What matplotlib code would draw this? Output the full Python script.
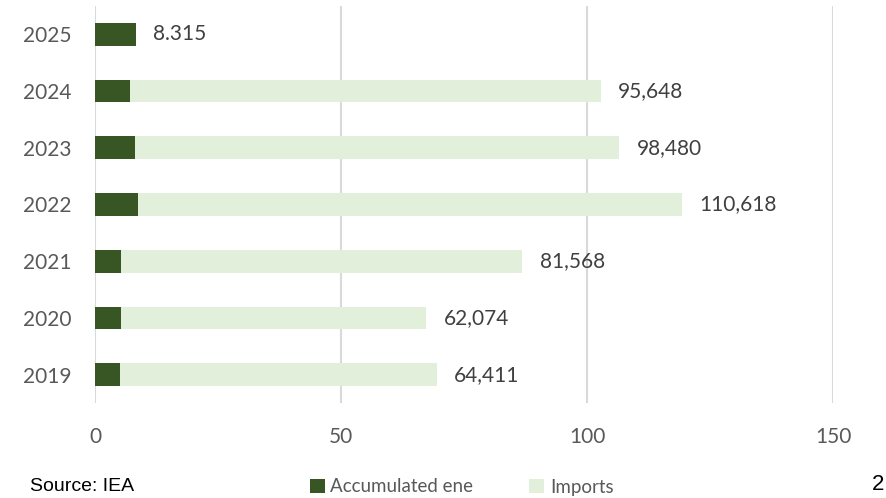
import matplotlib.pyplot as plt
import numpy as np

# данные
years = ['2019', '2020', '2021', '2022', '2023', '2024', '2025']
accumulated = [5.1, 5.3, 5.3, 8.7, 8.1, 7.1, 8.315]
imports = [64.411, 62.074, 81.568, 110.618, 98.480, 95.648, 0]
labels = ['64,411', '62,074', '81,568', '110,618', '98,480', '95,648', '8.315']

dark = '#375623'
light = '#e2efda'
grey = '#595959'

plt.rcParams['font.family'] = ['Lato', 'DejaVu Sans']

fig = plt.figure(figsize=(8.86, 4.98), dpi=100)
ax = fig.add_axes([95 / 886, 1 - 403 / 498, (833 - 95) / 886, (403 - 6) / 498])

y = np.arange(len(years))
ax.barh(y, accumulated, height=0.4, color=dark, label='Accumulated ene', zorder=3)
ax.barh(y, imports, height=0.4, left=accumulated, color=light, label='Imports', zorder=3)

# подписи значений
for i in range(len(years)):
    total = accumulated[i] + imports[i]
    ax.text(total + 3.5, y[i], labels[i], va='center', ha='left', fontsize=15, color='#404040')

ax.set_xlim(0, 150)
ax.set_ylim(-0.5, 6.5)
ax.set_xticks([0, 50, 100, 150])
ax.set_yticks(y)
ax.set_yticklabels(years)
ax.tick_params(axis='both', length=0, labelsize=15, labelcolor=grey)
ax.tick_params(axis='x', pad=17)
ax.tick_params(axis='y', pad=17)
ax.grid(axis='x', color='#d9d9d9', linewidth=1.5, zorder=0)
for s in ax.spines.values():
    s.set_visible(False)

fig.legend(loc='center', bbox_to_anchor=(0.521, 1 - 487 / 498), ncol=2, frameon=False,
           fontsize=13.5, labelcolor=grey, handlelength=0.8, handleheight=0.8,
           handletextpad=0.3, columnspacing=3.0)

fig.text(30 / 886, 1 - 478 / 498, 'Source: IEA', fontsize=14, va='top', ha='left',
         family='Liberation Sans')
fig.text(872 / 886, 1 - 474 / 498, '2', fontsize=16, va='top', ha='left',
         family='Liberation Sans')

fig.savefig('out.png', dpi=100)
